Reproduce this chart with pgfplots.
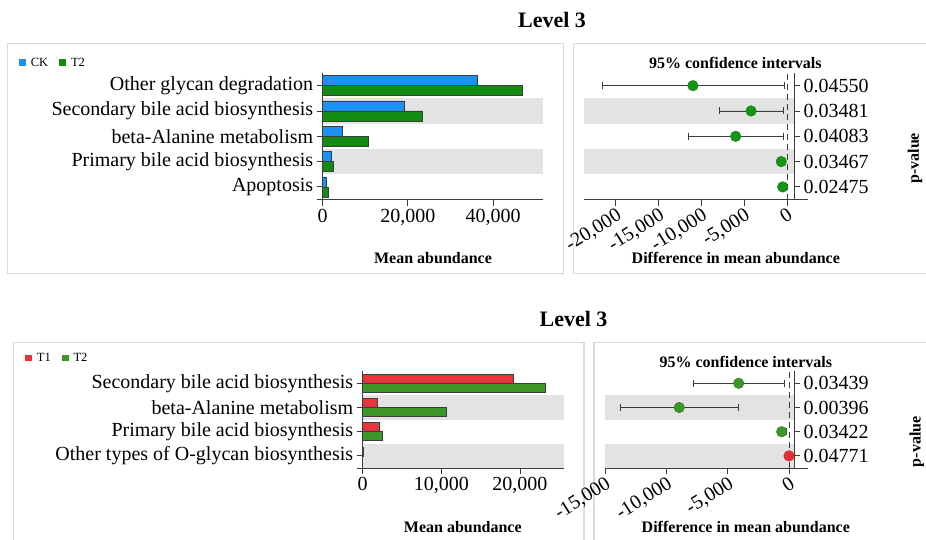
\documentclass[border=0pt]{standalone}
\usepackage{fontspec}
\setmainfont{Liberation Serif}
\usepackage{pgfplots}
\pgfplotsset{compat=1.18}
\usetikzlibrary{arrows.meta}

\definecolor{ckblue}{RGB}{25,145,245}
\definecolor{ttgreen}{RGB}{20,140,20}
\definecolor{tonered}{RGB}{232,52,60}
\definecolor{ttgreenb}{RGB}{60,150,40}
\definecolor{bandgray}{RGB}{227,227,227}
\definecolor{boxgray}{RGB}{218,218,218}
\definecolor{axisgray}{RGB}{60,60,60}
\definecolor{dotgreen}{RGB}{20,150,20}
\definecolor{dotred}{RGB}{235,45,55}

\newcommand{\fs}[1]{\fontsize{#1}{#1}\selectfont}

\pgfplotsset{
  base/.style={
    scale only axis, enlargelimits=false, clip=false,
    scaled x ticks=false, scaled y ticks=false,
    axis line style={draw=axisgray, line width=0.9pt, -},
    tick style={draw=axisgray, line width=0.9pt},
    tick align=outside, major tick length=6pt,
    ticklabel style={font=\fs{20}},
    /pgf/number format/assume math mode=true,
  },
  sqlegend/.style={
    legend image code/.code={\fill[##1,draw=none] (0pt,-3.4pt) rectangle (6.8pt,3.4pt);},
    legend style={draw=none, fill=none, inner sep=0pt, font=\fs{12.5},
      legend columns=2,
      /tikz/every odd column/.append style={column sep=3pt},
      /tikz/every even column/.append style={column sep=9pt}},
    legend cell align=left,
  },
  cistyle/.style={
    only marks, mark=*, mark size=5.3pt,
    error bars/x dir=both, error bars/x explicit,
    error bars/error bar style={line width=0.8pt, draw=axisgray},
    error bars/error mark options={line width=0.8pt, mark size=3.5pt, draw=axisgray, rotate=90},
  },
}

\begin{document}
\begin{tikzpicture}
\useasboundingbox (0pt,0pt) rectangle (926pt,539pt);

% panel boxes
\draw[boxgray, line width=1.2pt] (7.3pt,265.3pt) rectangle (563.3pt,495.4pt);
\draw[boxgray, line width=1.2pt] (573.3pt,265.3pt) rectangle (935pt,495.4pt);
\draw[boxgray, line width=1.2pt] (13.3pt,-10pt) rectangle (584pt,196.7pt);
\draw[boxgray, line width=1.2pt] (594pt,-10pt) rectangle (935pt,196.7pt);

% titles
\node[font=\bfseries\fs{22}, anchor=base] at (552pt,511pt) {Level 3};
\node[font=\bfseries\fs{22}, anchor=base] at (573.5pt,212.3pt) {Level 3};

% ---------------- top left ----------------
\begin{axis}[base, sqlegend,
  at={(322.7pt,339.4pt)}, anchor=south west, width=220.3pt, height=126.6pt,
  xmin=0, xmax=51700, ymin=-0.5, ymax=4.5,
  axis x line*=bottom, axis y line*=left,
  x axis line style={shorten <=-6pt},
  xtick={0,20000,40000}, xticklabels={0,{20,000},{40,000}},
  ytick={0,...,4},
  yticklabels={Apoptosis, Primary bile acid biosynthesis, beta-Alanine metabolism, Secondary bile acid biosynthesis, Other glycan degradation},
  legend style={at={(-1.379,1.081)}, anchor=west},
]
\fill[bandgray] (axis cs:0,0.5) rectangle (axis cs:51700,1.5);
\fill[bandgray] (axis cs:0,2.5) rectangle (axis cs:51700,3.5);
\addplot[xbar, bar width=10pt, bar shift=5pt, fill=ckblue, draw=axisgray, line width=0.6pt]
  coordinates {(950,0) (2050,1) (4700,2) (19200,3) (36200,4)};
\addplot[xbar, bar width=10pt, bar shift=-5pt, fill=ttgreen, draw=axisgray, line width=0.6pt]
  coordinates {(1200,0) (2550,1) (10600,2) (23300,3) (46900,4)};
\legend{CK, T2}
\end{axis}

% ---------------- top right ----------------
\begin{axis}[base,
  at={(584pt,339.4pt)}, anchor=south west, width=210pt, height=126.6pt,
  xmin=-23730, xmax=820, ymin=-0.5, ymax=4.5,
  axis x line*=bottom, axis y line*=right,
  x axis line style={shorten >=-14pt},
  xtick={-20000,-15000,-10000,-5000,0},
  xticklabels={{-20,000},{-15,000},{-10,000},{-5,000},0},
  xticklabel style={rotate=32, anchor=north east, inner sep=1pt},
  ytick={0,...,4},
  yticklabels={0.02475,0.03467,0.04083,0.03481,0.04550},
]
\fill[bandgray] (axis cs:-23730,0.5) rectangle (axis cs:820,1.5);
\fill[bandgray] (axis cs:-23730,2.5) rectangle (axis cs:820,3.5);
\addplot[forget plot, draw=axisgray, line width=0.8pt, dash pattern=on 6pt off 4pt]
  coordinates {(0,-0.5) (0,4.5)};
\addplot[fill=dotgreen, draw=dotgreen!80!black, cistyle] coordinates {
  (-500,0)   += (200,0)  -= (200,0)
  (-670,1)   += (320,0)  -= (280,0)
  (-6000,2)  += (5570,0) -= (5570,0)
  (-4200,3)  += (3770,0) -= (3750,0)
  (-11000,4) += (10650,0) -= (10600,0)
};
\end{axis}

% ---------------- bottom left ----------------
\begin{axis}[base, sqlegend,
  at={(362.7pt,71pt)}, anchor=south west, width=201.3pt, height=96.8pt,
  xmin=0, xmax=25600, ymin=-0.5, ymax=3.5,
  axis x line*=bottom, axis y line*=left,
  x axis line style={shorten <=-6pt},
  xtick={0,10000,20000}, xticklabels={0,{10,000},{20,000}},
  ytick={0,...,3},
  yticklabels={Other types of O-glycan biosynthesis, Primary bile acid biosynthesis, beta-Alanine metabolism, Secondary bile acid biosynthesis},
  legend style={at={(-1.678,1.136)}, anchor=west},
]
\fill[bandgray] (axis cs:0,-0.5) rectangle (axis cs:25600,0.5);
\fill[bandgray] (axis cs:0,1.5) rectangle (axis cs:25600,2.5);
\addplot[xbar, bar width=9pt, bar shift=4.5pt, fill=tonered, draw=axisgray, line width=0.6pt]
  coordinates {(30,0) (2100,1) (1800,2) (19200,3)};
\addplot[xbar, bar width=9pt, bar shift=-4.5pt, fill=ttgreenb, draw=axisgray, line width=0.6pt]
  coordinates {(10,0) (2500,1) (10600,2) (23200,3)};
\legend{T1, T2}
\end{axis}

% ---------------- bottom right ----------------
\begin{axis}[base,
  at={(605pt,71pt)}, anchor=south west, width=189pt, height=96.8pt,
  xmin=-15000, xmax=383, ymin=-0.5, ymax=3.5,
  axis x line*=bottom, axis y line*=right,
  x axis line style={shorten >=-14pt},
  xtick={-15000,-10000,-5000,0},
  xticklabels={{-15,000},{-10,000},{-5,000},0},
  xticklabel style={rotate=32, anchor=north east, inner sep=1pt},
  ytick={0,...,3},
  yticklabels={0.04771,0.03422,0.00396,0.03439},
]
\fill[bandgray] (axis cs:-15000,-0.5) rectangle (axis cs:383,0.5);
\fill[bandgray] (axis cs:-15000,1.5) rectangle (axis cs:383,2.5);
\addplot[forget plot, draw=axisgray, line width=0.8pt, dash pattern=on 6pt off 4pt]
  coordinates {(0,-0.5) (0,3.5)};
\addplot[fill=ttgreenb, draw=ttgreenb!80!black, cistyle] coordinates {
  (-620,1)  += (410,0)  -= (240,0)
  (-8960,2) += (4810,0) -= (4770,0)
  (-4120,3) += (3690,0) -= (3700,0)
};
\addplot[fill=dotred, draw=dotred!80!black, cistyle] coordinates {
  (-25,0) += (40,0) -= (40,0)
};
\end{axis}

% axis labels
\node[font=\bfseries\fs{16}] at (433pt,281pt) {Mean abundance};
\node[font=\bfseries\fs{16}] at (735.8pt,281pt) {Difference in mean abundance};
\node[font=\bfseries\fs{16}] at (735.3pt,475.7pt) {95\% confidence intervals};
\node[font=\bfseries\fs{16}, rotate=90] at (915pt,380.7pt) {p-value};

\node[font=\bfseries\fs{16}] at (462.8pt,12pt) {Mean abundance};
\node[font=\bfseries\fs{16}] at (745.8pt,12.3pt) {Difference in mean abundance};
\node[font=\bfseries\fs{16}] at (745.8pt,177.3pt) {95\% confidence intervals};
\node[font=\bfseries\fs{16}, rotate=90] at (916.7pt,97.3pt) {p-value};
\end{tikzpicture}
\end{document}
